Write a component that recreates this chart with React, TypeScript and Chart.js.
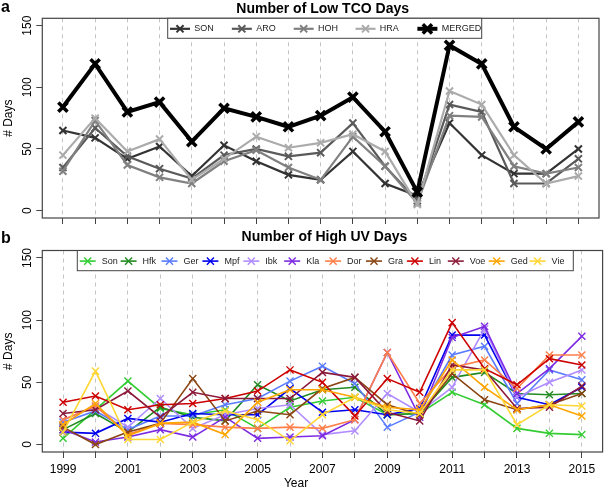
import React, { useEffect, useRef } from 'react';
import { Chart, registerables } from 'chart.js';

Chart.register(...registerables);

const FONT = '"Liberation Sans", Arial, Helvetica, sans-serif';

// ---------- data ----------
const years = [1999, 2000, 2001, 2002, 2003, 2004, 2005, 2006, 2007, 2008, 2009, 2010, 2011, 2012, 2013, 2014, 2015];
const yTickValues = [0, 50, 100, 150];
const xLabelYears = [1999, 2001, 2003, 2005, 2007, 2009, 2011, 2013, 2015];

// Panel a: Number of Low TCO Days
const tcoSON = [65, 59, 42, 52, 28, 53, 40, 29, 25, 48, 22, 12, 71, 45, 30, 30, 50];
const tcoARO = [35, 67, 44, 34, 26, 45, 50, 44, 47, 71, 36, 8, 86, 80, 22, 22, 42];
const tcoHOH = [32, 73, 37, 27, 22, 40, 49, 35, 25, 60, 36, 6, 77, 76, 36, 30, 35];
const tcoHRA = [45, 75, 48, 58, 25, 42, 60, 51, 55, 62, 48, 5, 97, 86, 45, 22, 28];
const tcoMERGED = [84, 119, 80, 88, 56, 83, 76, 68, 77, 92, 64, 15, 134, 119, 68, 50, 72];
const tcoNames = ['SON', 'ARO', 'HOH', 'HRA', 'MERGED'];
const tcoColors = ['#333333', '#5a5a5a', '#808080', '#ababab', '#000000'];

// Panel b: Number of High UV Days
const uvSon = [5, 28, 51, 29, 24, 28, 13, 30, 35, 38, 24, 25, 42, 32, 13, 9, 8];
const uvHfk = [12, 25, 10, 30, 22, 19, 48, 35, 44, 46, 24, 25, 54, 58, 41, 40, 41];
const uvGer = [18, 27, 12, 23, 23, 32, 37, 51, 63, 49, 14, 26, 72, 79, 33, 60, 52];
const uvMpf = [10, 9, 21, 18, 25, 24, 24, 45, 26, 28, 24, 29, 88, 88, 38, 32, 46];
const uvIbk = [20, 30, 14, 37, 13, 24, 29, 32, 8, 11, 41, 26, 46, 93, 38, 50, 60];
const uvKla = [12, 2, 6, 12, 6, 22, 5, 6, 7, 20, 74, 22, 86, 95, 41, 61, 87];
const uvDor = [20, 31, 8, 17, 16, 14, 13, 14, 13, 20, 74, 33, 62, 68, 45, 72, 72];
const uvGra = [14, 0, 10, 17, 53, 19, 27, 24, 45, 54, 32, 24, 57, 36, 28, 32, 41];
const uvLin = [34, 39, 28, 32, 33, 37, 43, 60, 50, 23, 53, 42, 98, 61, 48, 69, 64];
const uvVoe = [25, 28, 43, 22, 42, 37, 37, 37, 58, 54, 26, 19, 64, 60, 29, 30, 47];
const uvGed = [16, 33, 7, 17, 18, 8, 34, 44, 44, 38, 30, 28, 68, 46, 28, 32, 23];
const uvVie = [10, 59, 4, 4, 18, 27, 20, 3, 24, 38, 28, 25, 60, 60, 16, 32, 31];
const uvNames = ['Son', 'Hfk', 'Ger', 'Mpf', 'Ibk', 'Kla', 'Dor', 'Gra', 'Lin', 'Voe', 'Ged', 'Vie'];
const uvColors = ['#33cc33', '#228b22', '#5b7cff', '#0000ee', '#b08cff', '#7d2be2', '#ff7f4a', '#8b4513', '#cd0000', '#8b1a3a', '#ffa500', '#ffd633'];

// ---------- helpers ----------
const toPoints = (vals: number[]) => years.map((y, i) => ({ x: y, y: vals[i] }));

function drawCross(ctx: CanvasRenderingContext2D, x: number, y: number, r: number) {
  const o = r * Math.SQRT1_2;
  ctx.beginPath();
  ctx.moveTo(x - o, y - o);
  ctx.lineTo(x + o, y + o);
  ctx.moveTo(x - o, y + o);
  ctx.lineTo(x + o, y - o);
  ctx.stroke();
}

type DecorCfg = {
  title: string;
  titleBaseline: number;
  letter: string;
  letterBaseline: number;
  legendLeft: number;
  legendRight: number;
  legendBottom: number;
  legendFirstText: number;
  legendStep: number;
  segLen: number;
  segGap: number;
  legendFont: number;
  xTitleBaseline?: number;
};

function decorPlugin(cfg: DecorCfg) {
  return {
    id: 'decor',
    afterDraw(chart: any) {
      const ctx: CanvasRenderingContext2D = chart.ctx;
      const a = chart.chartArea;
      ctx.save();
      ctx.setLineDash([]);
      // plot box
      ctx.strokeStyle = '#444';
      ctx.lineWidth = 1.2;
      ctx.strokeRect(a.left, a.top, a.right - a.left, a.bottom - a.top);

      // rotated y tick labels
      const ys = chart.scales.y;
      ctx.fillStyle = '#000';
      ctx.font = `12px ${FONT}`;
      ctx.textAlign = 'center';
      ctx.textBaseline = 'middle';
      for (const v of yTickValues) {
        const p = ys.getPixelForValue(v);
        ctx.save();
        ctx.translate(28, p);
        ctx.rotate(-Math.PI / 2);
        ctx.fillText(String(v), 0, 0);
        ctx.restore();
      }
      // y axis title
      ctx.save();
      ctx.translate(9, (a.top + a.bottom) / 2);
      ctx.rotate(-Math.PI / 2);
      ctx.fillText('# Days', 0, 0);
      ctx.restore();

      // title
      ctx.textBaseline = 'alphabetic';
      ctx.font = `bold 14px ${FONT}`;
      ctx.fillText(cfg.title, (a.left + a.right) / 2 + 2, cfg.titleBaseline);

      // panel letter
      ctx.textAlign = 'left';
      ctx.font = `bold 16px ${FONT}`;
      ctx.fillText(cfg.letter, 1, cfg.letterBaseline);

      // x axis title
      if (cfg.xTitleBaseline !== undefined) {
        ctx.textAlign = 'center';
        ctx.font = `12px ${FONT}`;
        ctx.fillText('Year', 296, cfg.xTitleBaseline);
      }

      // legend box
      const lt = a.top;
      ctx.fillStyle = '#ffffff';
      ctx.fillRect(cfg.legendLeft, lt, cfg.legendRight - cfg.legendLeft, cfg.legendBottom - lt);
      ctx.strokeStyle = '#444';
      ctx.lineWidth = 1;
      ctx.strokeRect(cfg.legendLeft, lt, cfg.legendRight - cfg.legendLeft, cfg.legendBottom - lt);
      const cy = (lt + cfg.legendBottom) / 2 + 0.5;
      ctx.font = `${cfg.legendFont}px ${FONT}`;
      ctx.textAlign = 'left';
      ctx.textBaseline = 'middle';
      chart.data.datasets.forEach((ds: any, i: number) => {
        const tx = cfg.legendFirstText + i * cfg.legendStep;
        const x1 = tx - cfg.segGap - cfg.segLen;
        const x2 = tx - cfg.segGap;
        ctx.strokeStyle = ds.borderColor;
        ctx.lineWidth = ds.borderWidth;
        ctx.lineCap = 'butt';
        ctx.beginPath();
        ctx.moveTo(x1, cy);
        ctx.lineTo(x2, cy);
        ctx.stroke();
        ctx.lineWidth = ds.pointBorderWidth;
        drawCross(ctx, (x1 + x2) / 2, cy, ds.pointRadius);
        ctx.fillStyle = '#222';
        ctx.fillText(ds.label, tx, cy);
      });
      ctx.restore();
    },
  };
}

function baseOptions(opts: {
  padTop: number;
  xHeight: number;
  showXLabels: boolean;
}) {
  return {
    responsive: false,
    animation: false as const,
    events: [] as any[],
    layout: { padding: { left: 0, right: 2.2, top: opts.padTop, bottom: 0 } },
    plugins: { legend: { display: false }, title: { display: false }, tooltip: { enabled: false } },
    scales: {
      x: {
        type: 'linear' as const,
        min: 1998.36,
        max: 2015.64,
        afterBuildTicks: (s: any) => {
          s.ticks = years.map((v) => ({ value: v }));
        },
        afterFit: (s: any) => {
          s.height = opts.xHeight;
        },
        grid: {
          display: true,
          drawOnChartArea: true,
          drawTicks: true,
          color: '#c4c4c4',
          lineWidth: 1,
          tickColor: '#444',
          tickLength: 6,
          tickWidth: 1,
          tickBorderDash: [],
        },
        border: { display: false, dash: [4, 4] },
        ticks: {
          display: opts.showXLabels,
          autoSkip: false,
          maxRotation: 0,
          minRotation: 0,
          padding: 4,
          color: '#000',
          font: { family: FONT, size: 12 },
          callback: (v: any) => (xLabelYears.includes(Number(v)) ? String(v) : ''),
        },
      },
      y: {
        type: 'linear' as const,
        min: -6,
        max: 156,
        afterBuildTicks: (s: any) => {
          s.ticks = yTickValues.map((v) => ({ value: v }));
        },
        afterFit: (s: any) => {
          s.width = 42.3;
        },
        grid: {
          display: true,
          drawOnChartArea: false,
          drawTicks: true,
          tickColor: '#444',
          tickLength: 6,
          tickWidth: 1,
        },
        border: { display: false },
        ticks: { display: false },
      },
    },
  };
}

export default function App() {
  const topRef = useRef<HTMLCanvasElement | null>(null);
  const botRef = useRef<HTMLCanvasElement | null>(null);

  useEffect(() => {
    const tcoSeries = [tcoSON, tcoARO, tcoHOH, tcoHRA, tcoMERGED];
    const topChart = new Chart(topRef.current as HTMLCanvasElement, {
      type: 'line',
      data: {
        datasets: tcoSeries.map((vals, i) => {
          const merged = i === 4;
          return {
            label: tcoNames[i],
            data: toPoints(vals),
            borderColor: tcoColors[i],
            backgroundColor: tcoColors[i],
            pointBorderColor: tcoColors[i],
            borderWidth: merged ? 4 : 2.2,
            pointStyle: 'crossRot',
            pointRadius: merged ? 6.5 : 5,
            pointBorderWidth: merged ? 3.5 : 2,
            pointHoverRadius: 0,
            tension: 0,
            order: tcoSeries.length - i,
          };
        }),
      },
      options: baseOptions({ padTop: 18.3, xHeight: 8, showXLabels: false }) as any,
      plugins: [
        decorPlugin({
          title: 'Number of Low TCO Days',
          titleBaseline: 12.5,
          letter: 'a',
          letterBaseline: 12,
          legendLeft: 167.7,
          legendRight: 481.7,
          legendBottom: 38.3,
          legendFirstText: 194.3,
          legendStep: 61.85,
          segLen: 20,
          segGap: 4.3,
          legendFont: 9,
        }),
      ],
    });

    const uvSeries = [uvSon, uvHfk, uvGer, uvMpf, uvIbk, uvKla, uvDor, uvGra, uvLin, uvVoe, uvGed, uvVie];
    const botChart = new Chart(botRef.current as HTMLCanvasElement, {
      type: 'line',
      data: {
        datasets: uvSeries.map((vals, i) => ({
          label: uvNames[i],
          data: toPoints(vals),
          borderColor: uvColors[i],
          backgroundColor: uvColors[i],
          pointBorderColor: uvColors[i],
          borderWidth: 1.6,
          pointStyle: 'crossRot',
          pointRadius: 5,
          pointBorderWidth: 1.4,
          pointHoverRadius: 0,
          tension: 0,
          order: uvSeries.length - i,
        })),
      },
      options: baseOptions({ padTop: 24.5, xHeight: 37, showXLabels: true }) as any,
      plugins: [
        decorPlugin({
          title: 'Number of High UV Days',
          titleBaseline: 15,
          letter: 'b',
          letterBaseline: 17,
          legendLeft: 77.3,
          legendRight: 573.3,
          legendBottom: 44.7,
          legendFirstText: 101.7,
          legendStep: 40.9,
          segLen: 16,
          segGap: 6,
          legendFont: 9,
          xTitleBaseline: 261,
        }),
      ],
    });

    return () => {
      topChart.destroy();
      botChart.destroy();
    };
  }, []);

  return (
    <div style={{ position: 'fixed', left: 0, top: 0, width: 609, height: 489, background: '#fff' }}>
      <canvas ref={topRef} width={609} height={228} style={{ position: 'absolute', left: 0, top: 0 }} />
      <canvas ref={botRef} width={609} height={263} style={{ position: 'absolute', left: 0, top: 226 }} />
    </div>
  );
}
